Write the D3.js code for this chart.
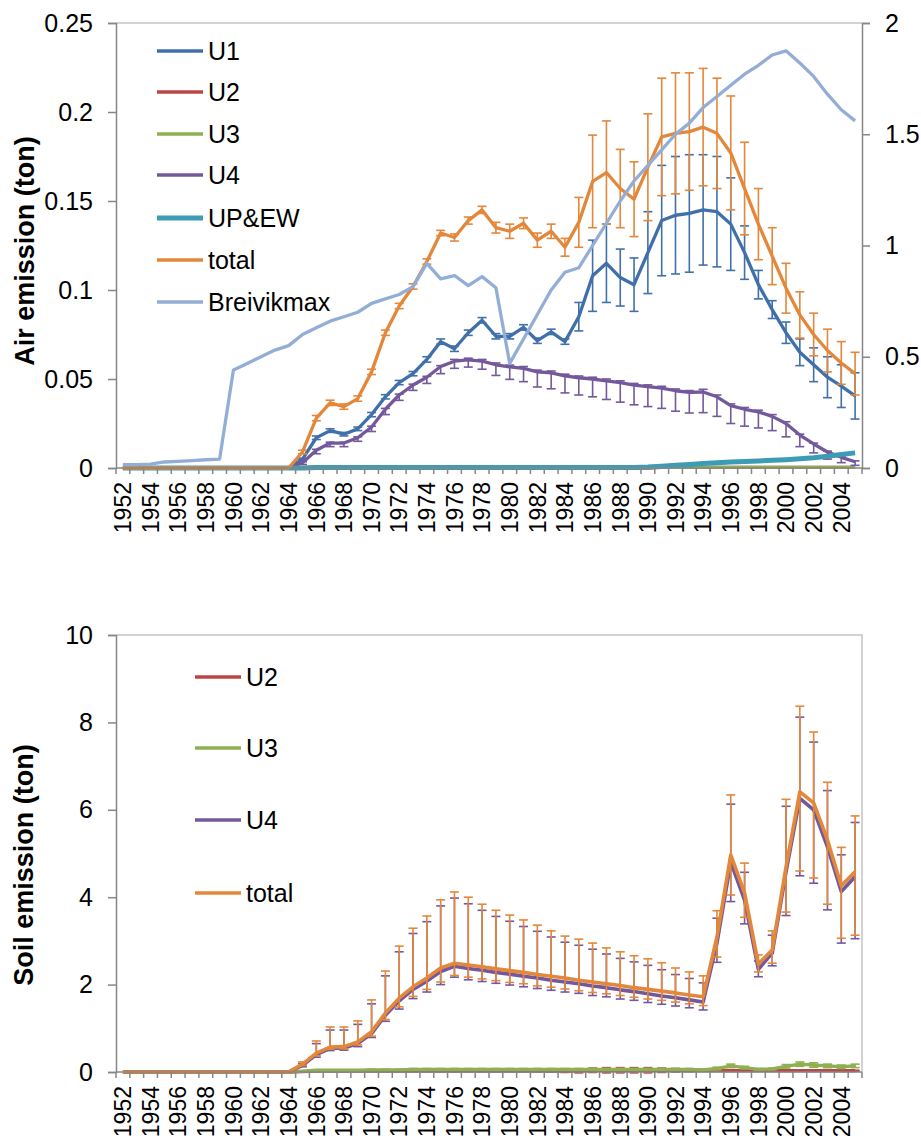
<!DOCTYPE html>
<html>
<head>
<meta charset="utf-8">
<script src="https://cdn.jsdelivr.net/npm/d3@7"></script>
<style>
  body { margin: 0; background: #fff; }
  svg { font-family: "Liberation Sans", Arial, sans-serif; }
</style>
</head>
<body>
<svg id="chart" width="921" height="1144"></svg>
<script>
// categories
const years = [1952,1953,1954,1955,1956,1957,1958,1959,1960,1961,1962,1963,1964,1965,1966,1967,1968,1969,
  1970,1971,1972,1973,1974,1975,1976,1977,1978,1979,1980,1981,1982,1983,1984,1985,1986,1987,1988,1989,
  1990,1991,1992,1993,1994,1995,1996,1997,1998,1999,2000,2001,2002,2003,2004,2005];

// tick labels
const airTicks = [0, 0.05, 0.1, 0.15, 0.2, 0.25];
const breivikTicks = [0, 0.5, 1, 1.5, 2];
const soilTicks = [0, 2, 4, 6, 8, 10];

// ---- air emission (ton), 1952..2005 ----
const airU1 = [0,0,0,0,0,0,0,0,0,0,0,0,0,
  0.005,0.017,0.021,0.019,0.022,0.030,0.040,0.048,0.053,0.061,0.071,0.067,0.076,0.083,0.074,
  0.074,0.079,0.0715,0.0765,0.071,0.085,0.108,0.115,0.107,0.103,0.121,0.139,0.142,0.143,0.145,
  0.144,0.137,0.121,0.103,0.089,0.076,0.065,0.058,0.051,0.046,0.0405];
const airU1Err = [0,0,0,0,0,0,0,0,0,0,0,0,0,
  0.0005,0.001,0.001,0.001,0.001,0.0012,0.0012,0.0012,0.0012,0.0015,0.0015,0.0015,0.0015,0.0015,0.0015,
  0.0015,0.0015,0.0015,0.0015,0.0015,0.008,0.02,0.022,0.016,0.015,0.023,0.031,0.033,0.033,0.031,
  0.031,0.026,0.015,0.008,0.005,0.006,0.0075,0.0095,0.0115,0.012,0.013];
const airU2 = [0,0,0,0,0,0,0,0,0,0,0,0,0,0,0,0,0,0,0,0,0,0,0,0,0,0,0,0,0,0,0,0,0,0,0,0,0,0,0,
  0.0003,0.0003,0.0003,0.0003,0.0003,0.0003,0.0003,0.0003,0.0003,0.0003,0.0003,0.0003,0.0003,0.0003,0.0003];
const airU3 = [0,0,0,0,0,0,0,0,0,0,0,0,0,
  0.0002,0.0006,0.0006,0.0006,0.0007,0.0007,0.0007,0.0008,0.0008,0.0008,0.0008,0.0008,0.0008,0.0008,0.0008,
  0.0008,0.0008,0.0008,0.0008,0.0008,0.0008,0.0008,0.0008,0.0008,0.0008,0.0007,0.0004,0.0003,0.0003,0.0003,
  0.0003,0.0003,0.0003,0.0003,0.0003,0.0003,0.0003,0.0003,0.0003,0.0003,0.0003];
const airU4 = [0,0,0,0,0,0,0,0,0,0,0,0,0,
  0.003,0.010,0.014,0.014,0.017,0.023,0.033,0.041,0.0466,0.051,0.057,0.060,0.0607,0.060,0.058,
  0.0568,0.056,0.054,0.0535,0.0517,0.0507,0.050,0.049,0.048,0.0465,0.0457,0.0449,0.0434,0.0425,0.0427,
  0.040,0.035,0.033,0.0315,0.029,0.025,0.0185,0.0135,0.009,0.006,0.0035];
const airU4ErrLo = [0,0,0,0,0,0,0,0,0,0,0,0,0,
  0.001,0.002,0.002,0.002,0.002,0.0025,0.003,0.003,0.003,0.0035,0.004,0.004,0.004,0.0045,0.006,
  0.007,0.0075,0.0085,0.009,0.0095,0.0097,0.010,0.0105,0.011,0.011,0.0112,0.0114,0.0115,0.0116,0.0116,
  0.011,0.010,0.0095,0.009,0.008,0.0075,0.0065,0.005,0.004,0.003,0.002];
const airU4ErrHi = [0,0,0,0,0,0,0,0,0,0,0,0,0,
  0.0005,0.0005,0.0005,0.0005,0.0005,0.0005,0.0005,0.0005,0.0005,0.0005,0.0005,0.001,0.001,0.001,0.001,
  0.001,0.001,0.001,0.001,0.001,0.001,0.001,0.001,0.001,0.001,0.001,0.001,0.001,0.001,0.0015,
  0.001,0.001,0.001,0.001,0.001,0.001,0.0005,0.0005,0.0005,0.0005,0.0005];
const airUPEW = [0,0,0,0,0,0,0,0,0,0,0,0,0,0,
  0.0003,0.0003,0.0003,0.0003,0.0003,0.0003,0.0003,0.0003,0.0003,0.0003,0.0003,0.0003,0.0003,0.0003,
  0.0003,0.0003,0.0003,0.0003,0.0003,0.0003,0.0003,0.0003,0.0003,0.0003,
  0.0005,0.001,0.0015,0.002,0.0025,0.003,0.0034,0.0037,0.004,0.0043,0.0047,0.0052,0.0058,0.0066,0.0076,0.0085];
const airTotal = [0,0,0,0,0,0,0,0,0,0,0,0,0,
  0.009,0.028,0.0366,0.0345,0.039,0.054,0.076,0.091,0.102,0.116,0.132,0.1295,0.139,0.145,0.135,
  0.133,0.1375,0.128,0.133,0.124,0.138,0.161,0.166,0.157,0.151,0.169,0.186,0.188,0.189,0.1915,
  0.188,0.177,0.157,0.137,0.119,0.101,0.086,0.075,0.066,0.059,0.053];
const airTotalErr = [0,0,0,0,0,0,0,0,0,0,0,0,0,
  0.001,0.0015,0.0015,0.0015,0.0015,0.0015,0.0015,0.0015,0.0015,0.0015,0.0015,0.002,0.002,0.002,0.003,
  0.004,0.003,0.004,0.004,0.005,0.014,0.026,0.029,0.022,0.021,0.030,0.033,0.034,0.033,0.033,
  0.031,0.032,0.026,0.020,0.016,0.014,0.013,0.012,0.012,0.012,0.012];
const breivikmax = [0.015,0.015,0.017,0.027,0.030,0.033,0.037,0.040,
  0.44,0.47,0.50,0.53,0.55,0.60,0.63,0.66,0.68,0.70,
  0.74,0.76,0.78,0.815,0.92,0.85,0.865,0.82,0.86,0.81,
  0.47,0.58,0.69,0.80,0.88,0.90,1.00,1.10,1.20,1.29,
  1.36,1.43,1.50,1.55,1.62,1.67,1.72,1.77,1.81,1.856,
  1.875,1.82,1.76,1.68,1.61,1.56];

// ---- soil emission (ton), 1952..2005 ----
const soilU2 = [0,0,0,0,0,0,0,0,0,0,0,0,0,
  0.01,0.02,0.02,0.02,0.02,0.02,0.02,0.02,0.02,0.02,0.02,0.02,0.02,0.02,0.02,
  0.02,0.02,0.02,0.02,0.02,0.02,0.04,0.04,0.04,0.04,0.04,0.04,0.04,0.03,0.03,
  0.03,0.03,0.03,0.03,0.03,0.03,0.03,0.03,0.03,0.03,0.03];
const soilU2Err = [0,0,0,0,0,0,0,0,0,0,0,0,0,
  0,0.005,0.005,0.005,0.005,0.005,0.005,0.01,0.01,0.01,0.01,0.01,0.01,0.01,0.01,
  0.01,0.01,0.01,0.02,0.03,0.04,0.05,0.06,0.06,0.06,0.06,0.05,0.04,0.02,0.01,
  0.01,0.01,0.01,0.01,0.01,0.01,0.01,0.01,0.01,0.01,0.01];
const soilU3 = [0,0,0,0,0,0,0,0,0,0,0,0,0,
  0.02,0.04,0.04,0.04,0.04,0.05,0.05,0.05,0.06,0.06,0.06,0.06,0.06,0.06,0.06,
  0.06,0.06,0.06,0.06,0.06,0.06,0.06,0.06,0.06,0.06,0.06,0.06,0.06,0.06,0.05,
  0.08,0.14,0.10,0.06,0.07,0.13,0.18,0.16,0.14,0.12,0.14];
const soilU3Err = [0,0,0,0,0,0,0,0,0,0,0,0,0,
  0.005,0.01,0.01,0.01,0.01,0.015,0.015,0.015,0.02,0.02,0.02,0.02,0.02,0.02,0.02,
  0.02,0.02,0.02,0.02,0.02,0.02,0.02,0.02,0.02,0.02,0.02,0.02,0.02,0.02,0.02,
  0.03,0.04,0.03,0.02,0.02,0.04,0.05,0.05,0.04,0.04,0.04];
const soilU4 = [0,0,0,0,0,0,0,0,0,0,0,0,0,
  0.15,0.40,0.54,0.55,0.65,0.88,1.30,1.63,1.89,2.08,2.30,2.42,2.37,2.33,2.28,
  2.24,2.19,2.15,2.10,2.06,2.02,1.97,1.93,1.88,1.84,1.79,1.74,1.70,1.65,1.60,
  2.95,4.80,3.93,2.35,2.72,4.58,6.26,6.00,5.15,4.13,4.47];
const soilU4ErrHi = [0,0,0,0,0,0,0,0,0,0,0,0,0,
  0.04,0.25,0.42,0.41,0.44,0.68,0.90,1.12,1.28,1.36,1.50,1.56,1.48,1.37,1.28,
  1.21,1.14,1.07,0.99,0.91,0.88,0.84,0.77,0.72,0.68,0.65,0.60,0.53,0.49,0.44,
  0.57,1.33,0.64,0.19,0.41,1.50,1.86,1.55,1.29,0.84,1.24];
const soilU4ErrLo = [0,0,0,0,0,0,0,0,0,0,0,0,0,
  0.03,0.06,0.05,0.05,0.07,0.09,0.14,0.19,0.21,0.25,0.30,0.25,0.26,0.26,0.25,
  0.25,0.24,0.24,0.23,0.23,0.22,0.22,0.21,0.21,0.20,0.20,0.19,0.19,0.18,0.18,
  0.44,0.90,0.54,0.17,0.29,1.00,1.77,1.68,1.44,1.18,1.42];
const soilTotal = [0,0,0,0,0,0,0,0,0,0,0,0,0,
  0.18,0.43,0.57,0.58,0.69,0.92,1.35,1.69,1.95,2.15,2.38,2.49,2.45,2.41,2.36,
  2.32,2.28,2.23,2.19,2.15,2.10,2.06,2.02,1.98,1.93,1.89,1.85,1.81,1.76,1.72,
  3.09,4.97,4.10,2.47,2.79,4.69,6.41,6.16,5.31,4.26,4.58];
const soilTotalErrHi = [0,0,0,0,0,0,0,0,0,0,0,0,0,
  0.05,0.28,0.46,0.45,0.48,0.73,0.96,1.19,1.34,1.42,1.56,1.63,1.55,1.43,1.34,
  1.27,1.20,1.13,1.04,0.96,0.94,0.89,0.82,0.77,0.73,0.70,0.65,0.57,0.53,0.48,
  0.60,1.37,0.68,0.21,0.44,1.55,1.96,1.62,1.32,0.88,1.28];
const soilTotalErrLo = [0,0,0,0,0,0,0,0,0,0,0,0,0,
  0.03,0.06,0.05,0.05,0.07,0.10,0.15,0.20,0.22,0.26,0.32,0.28,0.28,0.28,0.27,
  0.27,0.26,0.26,0.25,0.25,0.24,0.24,0.23,0.23,0.22,0.22,0.21,0.21,0.20,0.20,
  0.46,0.92,0.56,0.18,0.30,1.03,1.81,1.72,1.47,1.20,1.45];

const COLORS = {
  U1: "#4070AA", U2: "#BB4744", U3: "#8EB050", U4: "#74589C",
  UPEW: "#3C9BB5", total: "#E3873A", breivik: "#93AED6"
};
const AXIS_COLOR = "#868686";
const BORDER_COLOR = "#c4c4c4";
const TICK_FONT = 25;
const XLABEL_FONT = 23;
const TITLE_FONT = 27;
const LINE_W = 3.3;

const svg = d3.select("#chart");
const X0 = 116, X1 = 862;

const x = d3.scaleBand().domain(years).range([X0, X1]);
const cx = d => x(d) + x.bandwidth() / 2;

function drawSeries(g, y, values, errLo, errHi, color, width) {
  const s = g.append("g");
  if (errLo || errHi) {
    const bars = years.map((yr, i) => ({
      yr: yr, v: values[i],
      lo: errLo ? errLo[i] : 0,
      hi: errHi ? errHi[i] : 0
    })).filter(d => d.lo > 0 || d.hi > 0);
    s.selectAll("line.err").data(bars).enter().append("line")
      .attr("class", "err")
      .attr("x1", d => cx(d.yr)).attr("x2", d => cx(d.yr))
      .attr("y1", d => y(d.v - d.lo)).attr("y2", d => y(d.v + d.hi))
      .attr("stroke", color).attr("stroke-width", 1.6);
    s.selectAll("line.caphi").data(bars).enter().append("line")
      .attr("x1", d => cx(d.yr) - 4.5).attr("x2", d => cx(d.yr) + 4.5)
      .attr("y1", d => y(d.v + d.hi)).attr("y2", d => y(d.v + d.hi))
      .attr("stroke", color).attr("stroke-width", 1.6);
    s.selectAll("line.caplo").data(bars).enter().append("line")
      .attr("x1", d => cx(d.yr) - 4.5).attr("x2", d => cx(d.yr) + 4.5)
      .attr("y1", d => y(d.v - d.lo)).attr("y2", d => y(d.v - d.lo))
      .attr("stroke", color).attr("stroke-width", 1.6);
  }
  const line = d3.line().x((d, i) => cx(years[i])).y(d => y(d));
  s.append("path")
    .datum(values)
    .attr("d", line)
    .attr("fill", "none")
    .attr("stroke", color)
    .attr("stroke-width", width)
    .attr("stroke-linejoin", "round");
}

function styleAxis(g) {
  g.select(".domain").attr("stroke", AXIS_COLOR).attr("stroke-width", 1.5);
  g.selectAll(".tick line").attr("stroke", AXIS_COLOR).attr("stroke-width", 1.5);
  g.selectAll("text").attr("fill", "#000").attr("font-size", TICK_FONT)
    .attr("font-family", "Liberation Sans, Arial, sans-serif");
}

function drawXAxis(yPos) {
  const g = svg.append("g");
  g.append("line")
    .attr("x1", X0).attr("x2", X1).attr("y1", yPos).attr("y2", yPos)
    .attr("stroke", AXIS_COLOR).attr("stroke-width", 1.5);
  g.selectAll("line.tk").data(years.concat(["end"])).enter().append("line")
    .attr("class", "tk")
    .attr("x1", d => d === "end" ? X1 : x(d)).attr("x2", d => d === "end" ? X1 : x(d))
    .attr("y1", yPos).attr("y2", yPos + 6)
    .attr("stroke", AXIS_COLOR).attr("stroke-width", 1.5);
  const ax = svg.append("g")
    .attr("transform", `translate(0,${yPos})`)
    .call(d3.axisBottom(x).tickValues(years.filter((d, i) => i % 2 === 0)).tickSize(0));
  ax.select(".domain").remove();
  ax.selectAll("text")
    .attr("font-size", XLABEL_FONT)
    .attr("fill", "#000")
    .attr("font-family", "Liberation Sans, Arial, sans-serif")
    .attr("y", 0).attr("x", -14).attr("dy", "0.36em")
    .attr("transform", "rotate(-90)")
    .attr("text-anchor", "end");
}

function drawLegend(items, lx, rows) {
  const g = svg.append("g");
  items.forEach((it, i) => {
    g.append("line")
      .attr("x1", lx).attr("x2", lx + 46).attr("y1", rows[i]).attr("y2", rows[i])
      .attr("stroke", it.color).attr("stroke-width", it.width);
    g.append("text")
      .attr("x", lx + 51).attr("y", rows[i]).attr("dy", "0.35em")
      .attr("font-size", TICK_FONT)
      .text(it.name);
  });
}

function yTitle(text, cxp, cyp) {
  svg.append("text")
    .attr("transform", `translate(${cxp},${cyp}) rotate(-90)`)
    .attr("text-anchor", "middle").attr("dy", "0.35em")
    .attr("font-size", TITLE_FONT).attr("font-weight", "bold")
    .text(text);
}

// ================= top panel: air =================
const yAir = d3.scaleLinear().domain([0, 0.25]).range([468, 23]);
const yBrv = d3.scaleLinear().domain([0, 2]).range([468, 23]);

svg.append("line").attr("x1", X0).attr("x2", X1).attr("y1", 23).attr("y2", 23)
  .attr("stroke", BORDER_COLOR).attr("stroke-width", 1.5);

const airG = svg.append("g");
drawSeries(airG, yAir, airU1, airU1Err, airU1Err, COLORS.U1, LINE_W);
drawSeries(airG, yAir, airU2, null, null, COLORS.U2, LINE_W);
drawSeries(airG, yAir, airU3, null, null, COLORS.U3, LINE_W);
drawSeries(airG, yAir, airU4, airU4ErrLo, airU4ErrHi, COLORS.U4, LINE_W);
drawSeries(airG, yAir, airUPEW, null, null, COLORS.UPEW, 5);
drawSeries(airG, yAir, airTotal, airTotalErr, airTotalErr, COLORS.total, LINE_W);
drawSeries(airG, yBrv, breivikmax, null, null, COLORS.breivik, LINE_W);

drawXAxis(468);
svg.append("g").attr("transform", `translate(${X0},0)`)
  .call(d3.axisLeft(yAir).tickValues(airTicks).tickSize(8).tickPadding(15).tickFormat(d => String(d)))
  .call(styleAxis);
svg.append("g").attr("transform", `translate(${X1},0)`)
  .call(d3.axisRight(yBrv).tickValues(breivikTicks).tickSize(8).tickPadding(15).tickFormat(d => String(d)))
  .call(styleAxis);

yTitle("Air emission (ton)", 25, 251);

drawLegend([
  { name: "U1", color: COLORS.U1, width: LINE_W },
  { name: "U2", color: COLORS.U2, width: LINE_W },
  { name: "U3", color: COLORS.U3, width: LINE_W },
  { name: "U4", color: COLORS.U4, width: LINE_W },
  { name: "UP&EW", color: COLORS.UPEW, width: 5 },
  { name: "total", color: COLORS.total, width: LINE_W },
  { name: "Breivikmax", color: COLORS.breivik, width: LINE_W }
], 157, [51, 92, 134, 175, 218, 260, 302]);

// ================= bottom panel: soil =================
const ySoil = d3.scaleLinear().domain([0, 10]).range([1072, 635]);

svg.append("path")
  .attr("d", `M${X0},635 H${X1} V1072`)
  .attr("fill", "none").attr("stroke", BORDER_COLOR).attr("stroke-width", 1.5);

const soilG = svg.append("g");
drawSeries(soilG, ySoil, soilU2, soilU2Err, soilU2Err, COLORS.U2, LINE_W);
drawSeries(soilG, ySoil, soilU3, soilU3Err, soilU3Err, COLORS.U3, LINE_W);
drawSeries(soilG, ySoil, soilU4, soilU4ErrLo, soilU4ErrHi, COLORS.U4, 3.6);
drawSeries(soilG, ySoil, soilTotal, soilTotalErrLo, soilTotalErrHi, COLORS.total, 3.6);

drawXAxis(1072);
svg.append("g").attr("transform", `translate(${X0},0)`)
  .call(d3.axisLeft(ySoil).tickValues(soilTicks).tickSize(8).tickPadding(15).tickFormat(d => String(d)))
  .call(styleAxis);

yTitle("Soil emission (ton)", 24, 865);

drawLegend([
  { name: "U2", color: COLORS.U2, width: LINE_W },
  { name: "U3", color: COLORS.U3, width: LINE_W },
  { name: "U4", color: COLORS.U4, width: LINE_W },
  { name: "total", color: COLORS.total, width: LINE_W }
], 195, [677, 748, 820, 893]);
</script>
</body>
</html>
